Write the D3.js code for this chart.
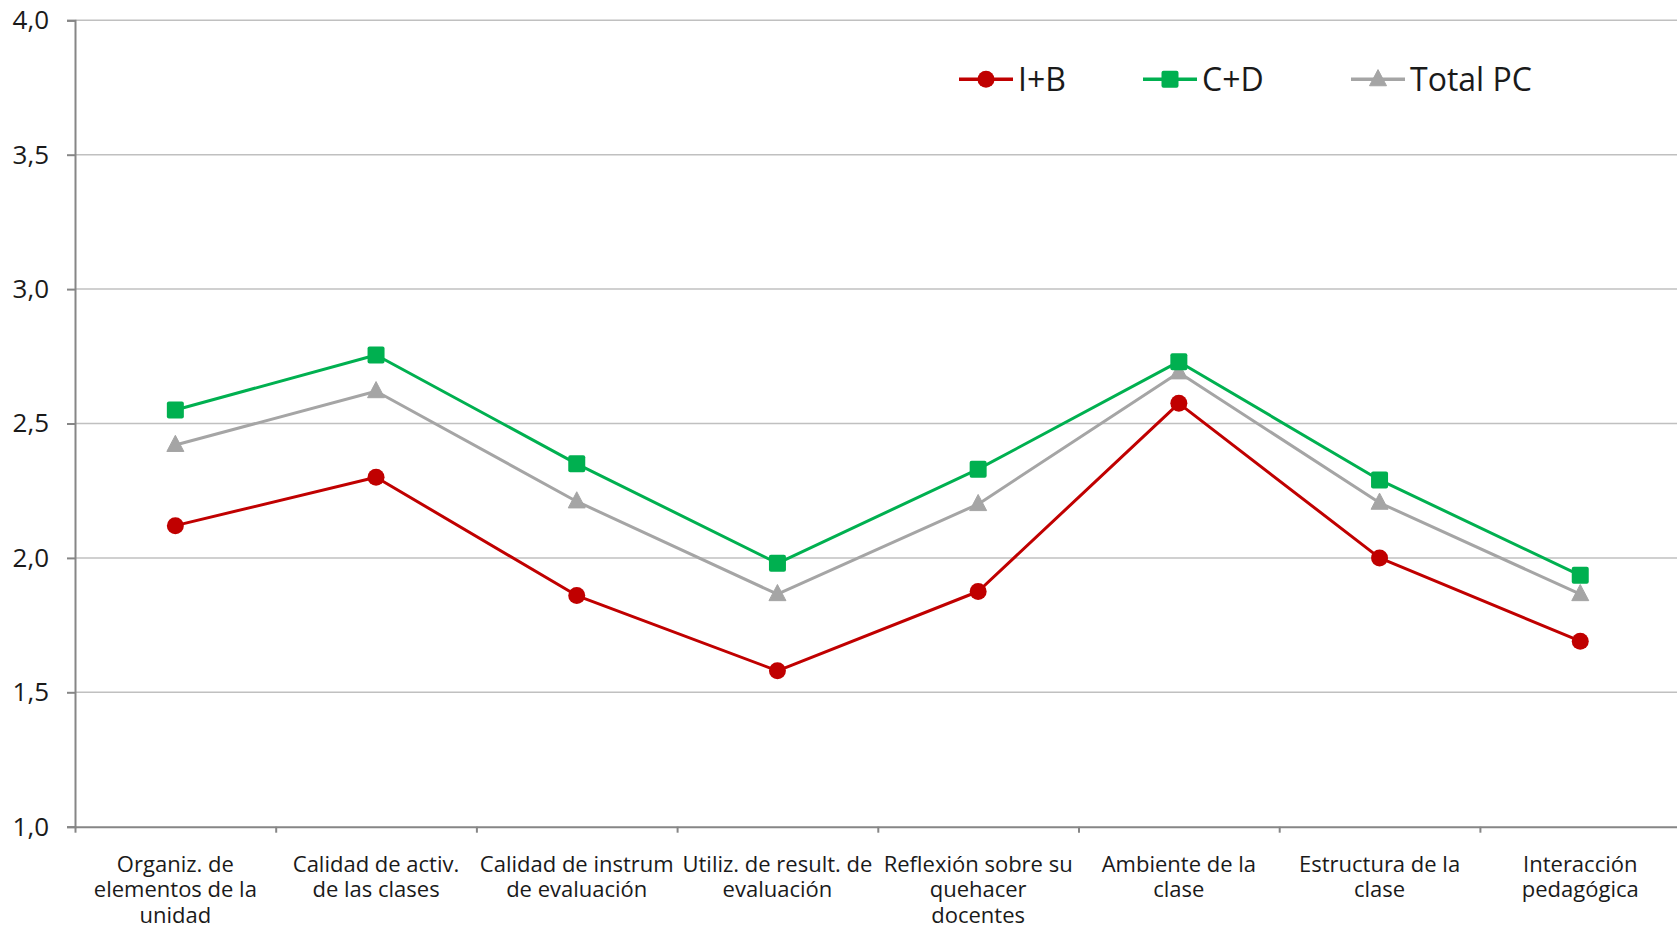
<!DOCTYPE html>
<html>
<head>
<meta charset="utf-8">
<script src="https://cdn.jsdelivr.net/npm/d3@7"></script>
<style>
  html, body { margin: 0; padding: 0; background: #fff; }
  svg { display: block; }
  text { font-family: "Open Sans", "Lato", sans-serif; fill: #1a1a1a; }
</style>
</head>
<body>
<svg id="chart" width="1677" height="926"></svg>
<script>
const categories = [
  "Organiz. de\nelementos de la\nunidad",
  "Calidad de activ.\nde las clases",
  "Calidad de instrum\nde evaluación",
  "Utiliz. de result. de\nevaluación",
  "Reflexión sobre su\nquehacer\ndocentes",
  "Ambiente de la\nclase",
  "Estructura de la\nclase",
  "Interacción\npedagógica"
];
const seriesNames = ["I+B", "C+D", "Total PC"];
const valuesIB    = [2.12, 2.30, 1.86, 1.58, 1.875, 2.575, 2.00, 1.69];
const valuesCD    = [2.55, 2.755, 2.35, 1.98, 2.33, 2.73, 2.29, 1.935];
const valuesTotal = [2.42, 2.62, 2.21, 1.865, 2.20, 2.69, 2.205, 1.865];
const yTicks = [1.0, 1.5, 2.0, 2.5, 3.0, 3.5, 4.0];
const colors = ["#C00000", "#00B050", "#A5A5A5"];
const markers = ["circle", "square", "triangle"];

const series = [
  { name: seriesNames[0], values: valuesIB,    color: colors[0], marker: markers[0] },
  { name: seriesNames[1], values: valuesCD,    color: colors[1], marker: markers[1] },
  { name: seriesNames[2], values: valuesTotal, color: colors[2], marker: markers[2] }
];

(function () {
const svg = d3.select("#chart");
const pLeft = 75, pRight = 1680.6, pTop = 20.3, pBottom = 826.7;

const xIdx = d3.scaleLinear().domain([0, categories.length]).range([pLeft, pRight]);
const y = d3.scaleLinear().domain([1, 4]).range([pBottom, pTop]);
const fmt = v => d3.format(".1f")(v).replace(".", ",");

// gridlines
svg.append("g")
  .selectAll("line")
  .data(yTicks.filter(t => t > 1))
  .join("line")
  .attr("x1", pLeft).attr("x2", pRight)
  .attr("y1", d => y(d)).attr("y2", d => y(d))
  .attr("stroke", "#C0C0C0").attr("stroke-width", 1.5);

// y axis
const yAxis = svg.append("g")
  .attr("transform", `translate(${pLeft},0)`)
  .call(d3.axisLeft(y).tickValues(yTicks).tickFormat(fmt).tickSize(8).tickPadding(18));
yAxis.select(".domain").attr("stroke", "#868686").attr("stroke-width", 2);
yAxis.selectAll(".tick line").attr("stroke", "#868686").attr("stroke-width", 2);
yAxis.selectAll(".tick text").attr("font-size", "26px").attr("font-family", "'Open Sans', sans-serif").attr("fill", "#1a1a1a");

// x axis
const xAxis = svg.append("g")
  .attr("transform", `translate(0,${pBottom})`)
  .call(d3.axisBottom(xIdx).tickValues(d3.range(categories.length + 1)).tickFormat("").tickSize(6).tickSizeOuter(0));
xAxis.select(".domain").attr("stroke", "#868686").attr("stroke-width", 2);
xAxis.selectAll(".tick line").attr("stroke", "#868686").attr("stroke-width", 2);

// category labels
const labels = svg.append("g");
categories.forEach((c, i) => {
  const t = labels.append("text")
    .attr("x", xIdx(i + 0.5))
    .attr("y", 872)
    .attr("text-anchor", "middle")
    .attr("font-size", "22px");
  c.split("\n").forEach((ln, k) => {
    t.append("tspan").attr("x", xIdx(i + 0.5)).attr("dy", k === 0 ? 0 : 25.4).text(ln);
  });
});

// markers
function drawMarker(g, type, cx, cy, color, s) {
  if (type === "circle") {
    g.append("circle").attr("cx", cx).attr("cy", cy).attr("r", s / 2).attr("fill", color);
  } else if (type === "square") {
    g.append("rect").attr("x", cx - s / 2).attr("y", cy - s / 2).attr("width", s).attr("height", s)
      .attr("rx", 2).attr("fill", color);
  } else {
    const h = s * 0.95;
    g.append("path")
      .attr("d", `M${cx},${cy - h * 0.6} L${cx + s / 2},${cy + h * 0.4} L${cx - s / 2},${cy + h * 0.4} Z`)
      .attr("fill", color).attr("stroke", color).attr("stroke-width", 1).attr("stroke-linejoin", "round");
  }
}

const lineGen = d3.line().x((d, i) => xIdx(i + 0.5)).y(d => y(d));
const order = [2, 1, 0];
order.forEach(si => {
  const s = series[si];
  const g = svg.append("g");
  g.append("path").attr("d", lineGen(s.values)).attr("fill", "none")
    .attr("stroke", s.color).attr("stroke-width", 3).attr("stroke-linejoin", "round");
  s.values.forEach((v, i) => drawMarker(g, s.marker, xIdx(i + 0.5), y(v), s.color, 17));
});

// legend
const legendX = [959, 1143, 1351];
const legendY = 79.3;
series.forEach((s, i) => {
  const g = svg.append("g");
  g.append("line").attr("x1", legendX[i]).attr("x2", legendX[i] + 54)
    .attr("y1", legendY).attr("y2", legendY).attr("stroke", s.color).attr("stroke-width", 3.5);
  drawMarker(g, s.marker, legendX[i] + 27, legendY, s.color, 17);
  g.append("text").attr("x", legendX[i] + 59).attr("y", legendY).attr("dy", "0.36em")
    .attr("font-size", "32px").text(s.name);
});
})();
</script>
</body>
</html>
